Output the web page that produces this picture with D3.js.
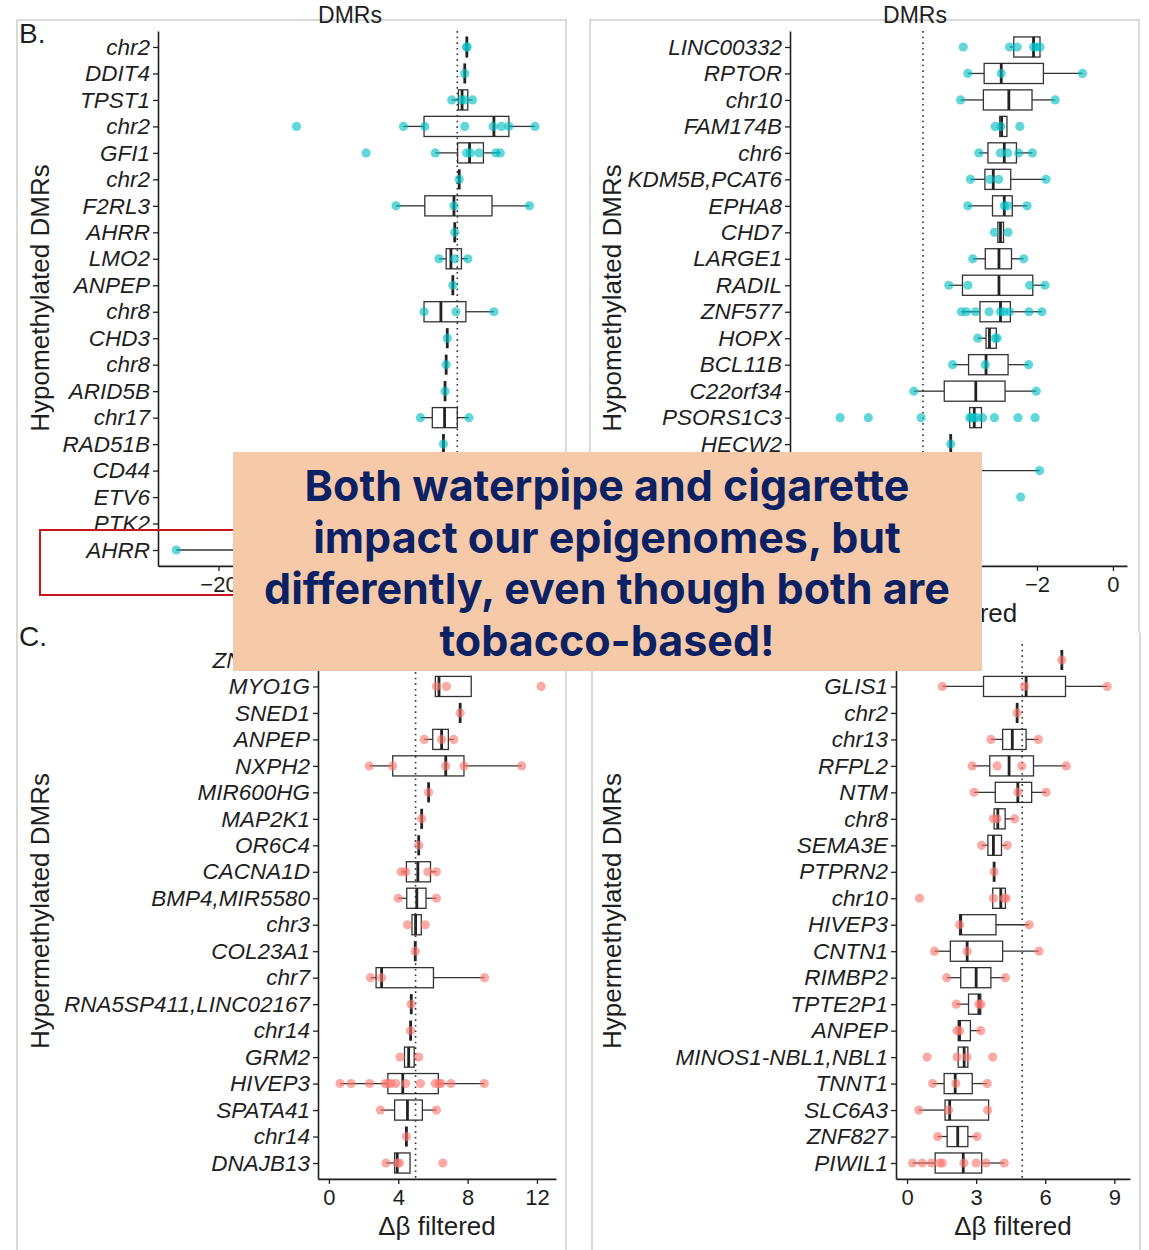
<!DOCTYPE html>
<html><head><meta charset="utf-8">
<script src="https://cdn.jsdelivr.net/npm/d3@7"></script>
<style>body{margin:0;background:#fff} svg{display:block}</style>
</head><body>
<svg id="c" width="1149" height="1250"></svg>
<script>
// ---------- DATA ----------
// box stats: [lowerWhisker, q1, median, q3, upperWhisker]
const hypoWLabels = ["chr2","DDIT4","TPST1","chr2","GFI1","chr2","F2RL3","AHRR","LMO2","ANPEP","chr8","CHD3","chr8","ARID5B","chr17","RAD51B","CD44","ETV6","PTK2","AHRR"];
const hypoWBoxes = [
  [-4.42,-4.42,-4.4,-4.38,-4.38],[-4.53,-4.53,-4.53,-4.53,-4.53],[-5.35,-4.93,-4.7,-4.34,-4.04],
  [-8.38,-7.09,-2.7,-1.76,-0.12],[-6.38,-4.98,-4.23,-3.36,-2.3],[-4.88,-4.88,-4.88,-4.88,-4.88],
  [-8.85,-7.04,-5.21,-2.82,-0.47],[-5.16,-5.16,-5.16,-5.16,-5.16],[-6.15,-5.7,-5.4,-4.74,-4.34],
  [-5.28,-5.28,-5.28,-5.28,-5.28],[-7.09,-7.09,-6.03,-4.46,-2.7],[-5.63,-5.63,-5.63,-5.63,-5.63],
  [-5.7,-5.7,-5.7,-5.7,-5.7],[-5.77,-5.77,-5.77,-5.77,-5.77],[-7.32,-6.57,-5.8,-5.0,-4.27],
  [-5.87,-5.87,-5.87,-5.87,-5.87],[-5.9,-5.9,-5.9,-5.9,-5.9],[-6.0,-6.0,-6.0,-6.0,-6.0],
  [-6.1,-6.1,-6.1,-6.1,-6.1],[-22.65,-15,-11,-8,-5.5]
];
const hypoWPoints = [
  [-4.4,-4.4],[-4.53],[-5.35,-4.75,-4.55,-4.04],[-15.1,-8.38,-7.04,-4.53,-2.75,-2.23,-1.76,-0.12],
  [-10.73,-6.38,-4.41,-4.18,-3.64,-2.58,-2.3],[-4.88],[-8.85,-5.21,-0.47],[-5.16],[-6.15,-5.16,-4.34],
  [-5.28],[-7.09,-5.09,-2.7],[-5.63],[-5.7],[-5.77],[-7.32,-4.27],[-5.87],[-5.9],[-6.0],[-6.1],[-22.65,-11,-5.5]
];
const hypoWTicks = [-20];

// rows 17-20 of this panel are covered in the source, their names are unreadable
const hypoCLabels = ["LINC00332","RPTOR","chr10","FAM174B","chr6","KDM5B,PCAT6","EPHA8","CHD7","LARGE1","RADIL","ZNF577","HOPX","BCL11B","C22orf34","PSORS1C3","HECW2","","","",""];
const hypoCBoxes = [
  [-2.72,-2.61,-2.09,-1.92,-1.92],[-3.82,-3.39,-2.94,-1.83,-0.80],[-4.01,-3.41,-2.74,-2.13,-1.52],
  [-2.98,-2.98,-2.93,-2.79,-2.79],[-3.53,-3.29,-2.86,-2.54,-2.12],[-3.75,-3.37,-3.15,-2.69,-1.76],
  [-3.82,-3.17,-2.86,-2.65,-2.26],[-3.03,-3.03,-2.96,-2.88,-2.88],[-3.69,-3.36,-3.0,-2.67,-2.35],
  [-4.32,-3.96,-3.0,-2.11,-1.79],[-3.99,-3.50,-2.96,-2.70,-1.87],[-3.56,-3.34,-3.25,-3.07,-3.07],
  [-4.22,-3.8,-3.34,-2.76,-2.22],[-5.24,-4.44,-3.61,-2.84,-2.02],[-3.77,-3.77,-3.65,-3.46,-3.46],
  [-4.27,-4.27,-4.27,-4.27,-4.27],[-6.2,-5.4,-4.6,-3.9,-1.93],[-5.8,-5.2,-4.7,-4.2,-3.7],
  [-6.0,-5.6,-5.1,-4.6,-4.0],[-5.5,-5.5,-5.5,-5.5,-5.5]
];
const hypoCPoints = [
  [-3.94,-2.72,-2.52,-2.09,-2.02,-1.92],[-3.82,-2.94,-0.80],[-4.01,-1.52],[-3.1,-2.95,-2.45],
  [-3.53,-2.96,-2.77,-2.48,-2.12],[-3.75,-3.24,-3.01,-1.76],[-3.82,-2.86,-2.77,-2.26],[-3.12,-2.76],
  [-3.69,-2.35],[-4.32,-3.82,-2.19,-1.79],[-3.99,-3.86,-3.62,-3.26,-2.96,-2.87,-2.72,-2.21,-1.87],
  [-3.56,-3.1,-3.05],[-4.22,-3.36,-2.22],[-5.24,-2.02],
  [-7.18,-6.44,-5.05,-3.77,-3.72,-3.67,-3.58,-3.43,-3.12,-2.5,-2.05],[-4.27],[-6.2,-4.6,-1.93],
  [-5.8,-4.7,-2.43],[-6.0,-4.0],[-5.5]
];
const hypoCTicks = [-2,0];

const hyperWLabels = ["ZNF385D","MYO1G","SNED1","ANPEP","NXPH2","MIR600HG","MAP2K1","OR6C4","CACNA1D","BMP4,MIR5580","chr3","COL23A1","chr7","RNA5SP411,LINC02167","chr14","GRM2","HIVEP3","SPATA41","chr14","DNAJB13"];
const hyperWBoxes = [
  [6.9,6.9,6.9,6.9,6.9],[6.14,6.14,6.35,8.21,8.21],[7.57,7.57,7.57,7.57,7.57],[5.5,5.99,6.5,6.89,7.2],
  [2.33,3.68,6.74,7.79,11.12],[5.75,5.75,5.75,5.75,5.75],[5.35,5.35,5.35,5.35,5.35],[5.18,5.18,5.18,5.18,5.18],
  [4.17,4.47,5.13,5.86,6.2],[4.0,4.49,5.07,5.6,6.2],[4.79,4.79,5.0,5.33,5.33],[4.98,4.98,4.98,4.98,4.98],
  [2.4,2.72,3.04,6.03,8.98],[4.75,4.75,4.75,4.75,4.75],[4.71,4.71,4.71,4.71,4.71],[4.36,4.36,4.6,4.92,4.92],
  [0.64,3.4,4.26,6.31,8.96],[2.97,3.79,4.53,5.39,6.2],[4.47,4.47,4.47,4.47,4.47],[3.29,3.79,3.94,4.68,4.68]
];
const hyperWPoints = [
  [6.9],[6.2,6.78,12.24],[7.57],[5.5,6.5,7.2],[2.33,3.68,6.74,7.79,11.12],[5.75],[5.35],[5.18],
  [4.17,4.43,5.71,6.2],[4.0,6.2],[4.53,5.56],[4.98],[2.4,3.04,8.98],[4.75],[4.71],[4.1,5.18],
  [0.64,1.28,2.35,3.25,3.42,3.57,3.85,4.43,5.28,6.14,6.35,6.46,7.04,8.96],[2.97,6.2],[4.47],[3.29,3.94,4.07,6.57]
];
const hyperWTicks = [0,4,8,12];

// first row label is covered in the source
const hyperCLabels = ["","GLIS1","chr2","chr13","RFPL2","NTM","chr8","SEMA3E","PTPRN2","chr10","HIVEP3","CNTN1","RIMBP2","TPTE2P1","ANPEP","MINOS1-NBL1,NBL1","TNNT1","SLC6A3","ZNF827","PIWIL1"];
const hyperCBoxes = [
  [6.72,6.72,6.72,6.72,6.72],[1.53,3.32,5.17,6.88,8.69],[4.78,4.78,4.78,4.78,4.78],[3.64,4.15,4.57,5.17,5.7],
  [2.83,3.59,4.43,5.49,6.91],[2.91,3.83,4.81,5.41,6.04],[3.78,3.78,3.94,4.26,4.67],[3.24,3.51,3.75,4.1,4.35],
  [3.78,3.78,3.78,3.78,3.78],[3.72,3.72,4.07,4.27,4.27],[2.28,2.28,2.33,3.86,5.3],[1.19,1.88,2.61,4.15,5.73],
  [1.72,2.33,3.0,3.64,4.27],[2.14,2.67,3.12,3.2,3.2],[2.22,2.22,2.28,2.75,3.2],[2.22,2.22,2.48,2.64,2.64],
  [1.11,1.61,2.09,2.83,3.48],[0.51,1.65,1.85,3.54,3.54],[1.33,1.74,2.2,2.64,3.04],[0.24,1.22,2.44,3.24,4.22]
];
const hyperCPoints = [
  [6.72],[1.53,5.1,8.69],[4.78],[3.64,5.7],[2.83,3.91,4.98,6.91],[2.91,4.81,6.04],[3.75,3.9,4.67],[3.24,4.35],
  [3.78],[0.54,3.75,4.22,4.3],[2.28,5.3],[1.19,2.61,5.73],[1.72,4.27],[2.14,3.12,3.2],[2.17,2.28,3.2],
  [0.87,2.17,2.6,3.72],[1.11,2.12,3.48],[0.51,1.80,3.5],[1.33,3.04],[0.24,0.66,1.06,1.42,1.53,2.47,3.0,3.43,4.22]
];
const hyperCTicks = [0,3,6,9];

const threshold = [-5, -5, 5, 5];
const overlayLines = ["Both waterpipe and cigarette","impact our epigenomes, but","differently, even though both are","tobacco-based!"];

// ---------- DRAW ----------
const svg = d3.select("#c");
const INK = "#1e1e1e";
const TEAL = "#00BFC4", RED = "#F8766D";
const FONT = "Liberation Sans, Arial, sans-serif";

const border = svg.append("g").attr("stroke","#cdcdcd").attr("stroke-width",1.5).attr("fill","none");
border.append("path").attr("d","M17,1250V20H566V1250");
border.append("path").attr("d","M590,633V20H1139V633");
border.append("path").attr("d","M592,633V1250M1140,633V1250");

function panel(o){
  const g = svg.append("g");
  const x = d3.scaleLinear().domain(o.xd).range(o.xr);
  const idx = d3.range(o.labels.length);
  const y = d3.scalePoint().domain(idx).range(o.yr).padding(0.6);
  const bh = y.step()*0.76;

  const ya = g.append("g").attr("transform",`translate(${o.xr[0]},0)`)
    .call(d3.axisLeft(y).tickSize(5).tickSizeOuter(0).tickPadding(3).tickFormat(i=>o.labels[i]));
  ya.selectAll("text").attr("font-family",FONT).attr("font-style","italic")
    .attr("font-size","22.5px").attr("fill",INK);
  const xa = g.append("g").attr("transform",`translate(0,${o.yr[1]})`)
    .call(d3.axisBottom(x).tickValues(o.ticks).tickSize(5).tickSizeOuter(0).tickPadding(5).tickFormat(d3.format("d")));
  xa.selectAll("text").attr("font-family",FONT).attr("font-size","22px").attr("fill",INK);
  g.selectAll(".domain").attr("stroke",INK).attr("stroke-width",1.6);
  g.selectAll(".tick line").attr("stroke",INK).attr("stroke-width",1.3);

  const rows = g.append("g").selectAll("g").data(idx).join("g");
  rows.append("line").attr("x1",i=>x(o.boxes[i][0])).attr("x2",i=>x(o.boxes[i][1]))
    .attr("y1",i=>y(i)).attr("y2",i=>y(i)).attr("stroke","#333").attr("stroke-width",1.3);
  rows.append("line").attr("x1",i=>x(o.boxes[i][3])).attr("x2",i=>x(o.boxes[i][4]))
    .attr("y1",i=>y(i)).attr("y2",i=>y(i)).attr("stroke","#333").attr("stroke-width",1.3);
  rows.append("rect").attr("x",i=>x(o.boxes[i][1])).attr("width",i=>x(o.boxes[i][3])-x(o.boxes[i][1]))
    .attr("y",i=>y(i)-bh/2).attr("height",bh).attr("fill","#fff").attr("stroke","#333").attr("stroke-width",1.3);
  rows.append("line").attr("x1",i=>x(o.boxes[i][2])).attr("x2",i=>x(o.boxes[i][2]))
    .attr("y1",i=>y(i)-bh/2).attr("y2",i=>y(i)+bh/2).attr("stroke","#222").attr("stroke-width",2.8);

  g.append("line").attr("x1",x(o.thr)).attr("x2",x(o.thr)).attr("y1",o.yr[0]).attr("y2",o.yr[1])
    .attr("stroke","#333").attr("stroke-width",1.6).attr("stroke-dasharray","1.6,4");

  const pts = idx.flatMap(i=>o.points[i].map(v=>({i,v})));
  g.append("g").selectAll("circle").data(pts).join("circle")
    .attr("cx",d=>x(d.v)).attr("cy",d=>y(d.i)).attr("r",4.6)
    .attr("fill",o.color).attr("fill-opacity",0.62);

  if (o.xtitle) g.append("text").attr("x",(o.xr[0]+o.xr[1])/2).attr("y",o.yr[1]+56).attr("text-anchor","middle")
    .attr("font-family",FONT).attr("font-size","26px").attr("fill",INK).text("Δβ filtered");
  g.append("text").attr("transform",`translate(${o.ytx},${o.yty}) rotate(-90)`).attr("text-anchor","middle")
    .attr("font-family",FONT).attr("font-size","26px").attr("fill",INK).text(o.ytitle);
}

panel({labels:hypoWLabels,boxes:hypoWBoxes,points:hypoWPoints,ticks:hypoWTicks,thr:threshold[0],xtitle:false,
  xd:[-23.8,1.2],xr:[158,556],yr:[31.1,565.9],color:TEAL,ytitle:"Hypomethylated DMRs",ytx:49,yty:298});
panel({labels:hypoCLabels,boxes:hypoCBoxes,points:hypoCPoints,ticks:hypoCTicks,thr:threshold[1],xtitle:true,
  xd:[-8.5,0.37],xr:[790,1127],yr:[31.1,565.9],color:TEAL,ytitle:"Hypomethylated DMRs",ytx:621,yty:298});
panel({labels:hyperWLabels,boxes:hyperWBoxes,points:hyperWPoints,ticks:hyperWTicks,thr:threshold[2],xtitle:true,
  xd:[-0.63,13.1],xr:[318,556],yr:[644.1,1178.9],color:RED,ytitle:"Hypermethylated DMRs",ytx:49,yty:911});
panel({labels:hyperCLabels,boxes:hyperCBoxes,points:hyperCPoints,ticks:hyperCTicks,thr:threshold[3],xtitle:true,
  xd:[-0.48,9.68],xr:[896,1130],yr:[644.1,1178.9],color:RED,ytitle:"Hypermethylated DMRs",ytx:621,yty:911});

const lab = (t,x,y,size,anchor)=>svg.append("text").attr("x",x).attr("y",y).attr("text-anchor",anchor||"start")
  .attr("font-family",FONT).attr("font-size",size).attr("fill",INK).text(t);
lab("DMRs",350,23,"23px","middle");
lab("DMRs",915,23,"23px","middle");
lab("B.",19,43,"28px");
lab("C.",19,646,"28px");

svg.append("rect").attr("x",40).attr("y",530).attr("width",520).attr("height",65)
  .attr("fill","none").attr("stroke","#c8141c").attr("stroke-width",2);

svg.append("rect").attr("x",233).attr("y",452).attr("width",749).attr("height",219).attr("fill","#f6caa9");
svg.append("g").selectAll("text").data(overlayLines).join("text")
  .attr("x",607).attr("y",(d,i)=>501+i*51.7).attr("text-anchor","middle")
  .attr("font-family","Inter, 'Open Sans', sans-serif").attr("font-weight",700).attr("font-size","43px")
  .attr("fill","#0b2163").text(d=>d);
</script>
</body></html>
